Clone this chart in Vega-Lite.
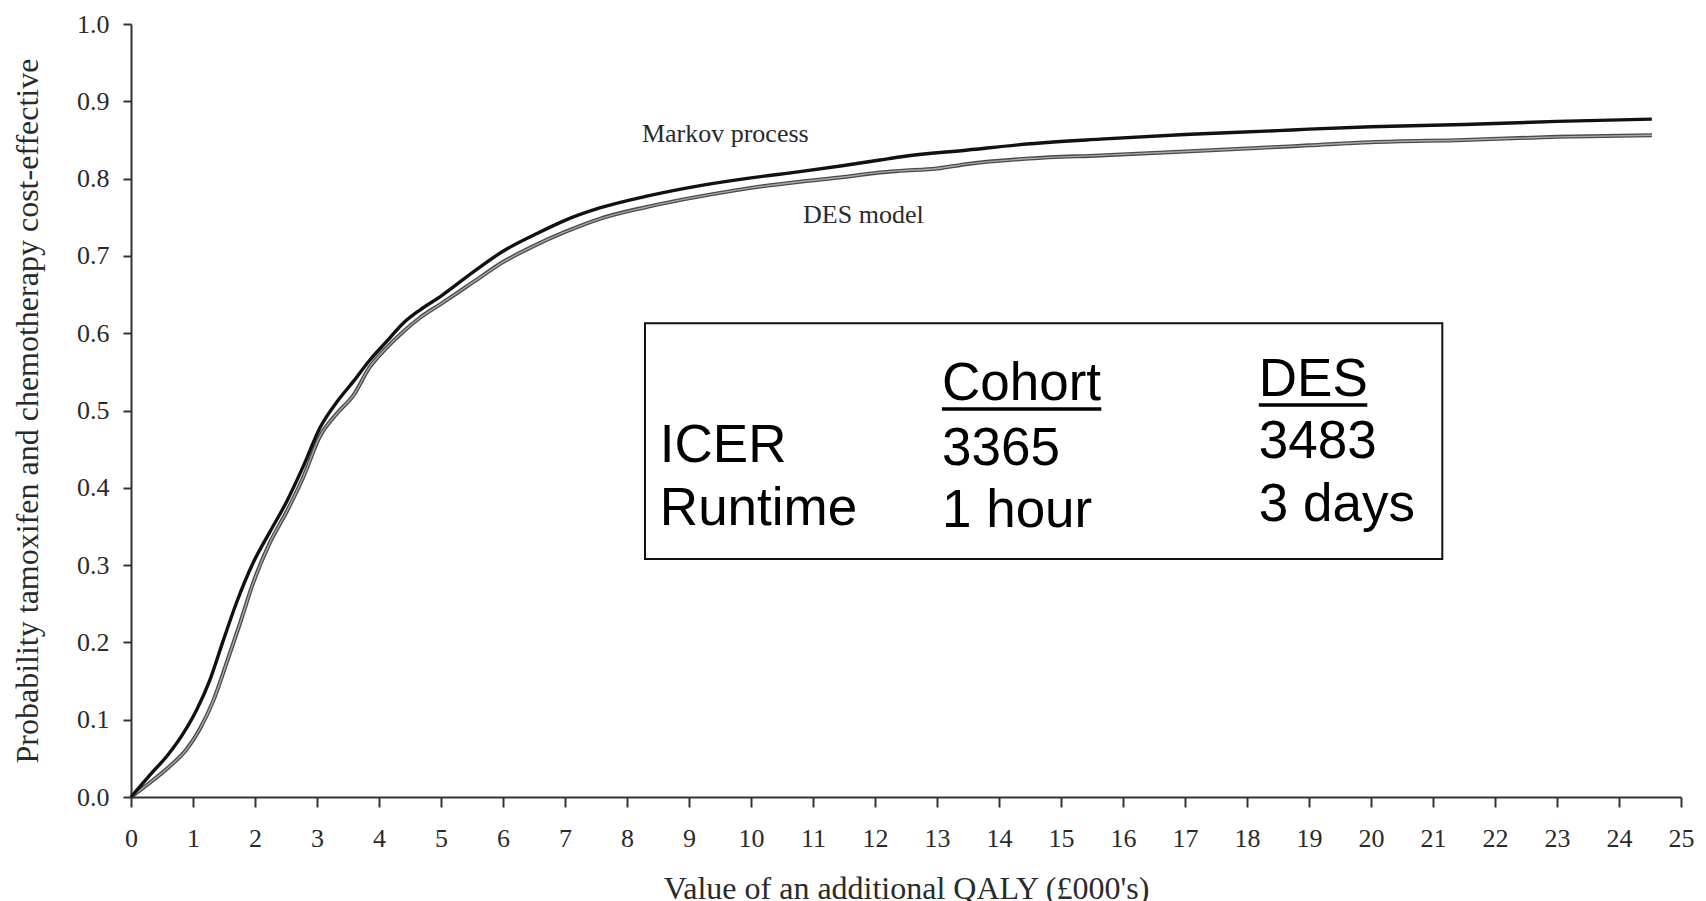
{
  "$schema": "https://vega.github.io/schema/vega-lite/v6.json",
  "width": 1550,
  "height": 773,
  "autosize": "none",
  "padding": {"left": 131, "top": 24, "right": 25, "bottom": 104},
  "background": "white",
  "config": {
    "view": {"stroke": null},
    "axis": {
      "grid": false,
      "domainColor": "#333333",
      "domainWidth": 2,
      "tickColor": "#333333",
      "tickWidth": 2,
      "labelFont": "Liberation Serif",
      "labelFontSize": 26,
      "labelColor": "#2a2a2a",
      "titleFont": "Liberation Serif",
      "titleFontSize": 32,
      "titleFontWeight": "normal",
      "titleColor": "#2a2a2a"
    }
  },
  "data": {
    "values": [
      {"x": 0, "p": 0, "model": "Markov"},
      {"x": 0.3, "p": 0.028, "model": "Markov"},
      {"x": 0.6, "p": 0.055, "model": "Markov"},
      {"x": 0.84, "p": 0.082, "model": "Markov"},
      {"x": 1.06, "p": 0.113, "model": "Markov"},
      {"x": 1.27, "p": 0.151, "model": "Markov"},
      {"x": 1.49, "p": 0.203, "model": "Markov"},
      {"x": 1.70, "p": 0.251, "model": "Markov"},
      {"x": 1.97, "p": 0.303, "model": "Markov"},
      {"x": 2.24, "p": 0.343, "model": "Markov"},
      {"x": 2.51, "p": 0.382, "model": "Markov"},
      {"x": 2.78, "p": 0.428, "model": "Markov"},
      {"x": 3.05, "p": 0.478, "model": "Markov"},
      {"x": 3.32, "p": 0.511, "model": "Markov"},
      {"x": 3.59, "p": 0.538, "model": "Markov"},
      {"x": 3.85, "p": 0.565, "model": "Markov"},
      {"x": 4.12, "p": 0.589, "model": "Markov"},
      {"x": 4.39, "p": 0.613, "model": "Markov"},
      {"x": 4.66, "p": 0.630, "model": "Markov"},
      {"x": 5.0, "p": 0.648, "model": "Markov"},
      {"x": 5.5, "p": 0.678, "model": "Markov"},
      {"x": 6.0, "p": 0.706, "model": "Markov"},
      {"x": 6.5, "p": 0.727, "model": "Markov"},
      {"x": 7.0, "p": 0.746, "model": "Markov"},
      {"x": 7.56, "p": 0.762, "model": "Markov"},
      {"x": 8.3, "p": 0.777, "model": "Markov"},
      {"x": 9.18, "p": 0.791, "model": "Markov"},
      {"x": 10.0, "p": 0.801, "model": "Markov"},
      {"x": 10.79, "p": 0.809, "model": "Markov"},
      {"x": 11.5, "p": 0.817, "model": "Markov"},
      {"x": 12.08, "p": 0.824, "model": "Markov"},
      {"x": 12.4, "p": 0.828, "model": "Markov"},
      {"x": 13.5, "p": 0.837, "model": "Markov"},
      {"x": 14.5, "p": 0.845, "model": "Markov"},
      {"x": 15.63, "p": 0.851, "model": "Markov"},
      {"x": 17, "p": 0.857, "model": "Markov"},
      {"x": 18.5, "p": 0.862, "model": "Markov"},
      {"x": 19, "p": 0.864, "model": "Markov"},
      {"x": 20, "p": 0.867, "model": "Markov"},
      {"x": 21.5, "p": 0.870, "model": "Markov"},
      {"x": 23, "p": 0.874, "model": "Markov"},
      {"x": 24.53, "p": 0.877, "model": "Markov"},
      {"x": 0, "p": 0, "model": "DES"},
      {"x": 0.36, "p": 0.022, "model": "DES"},
      {"x": 0.63, "p": 0.040, "model": "DES"},
      {"x": 0.90, "p": 0.062, "model": "DES"},
      {"x": 1.11, "p": 0.088, "model": "DES"},
      {"x": 1.33, "p": 0.125, "model": "DES"},
      {"x": 1.54, "p": 0.173, "model": "DES"},
      {"x": 1.76, "p": 0.225, "model": "DES"},
      {"x": 1.97, "p": 0.277, "model": "DES"},
      {"x": 2.24, "p": 0.329, "model": "DES"},
      {"x": 2.51, "p": 0.369, "model": "DES"},
      {"x": 2.78, "p": 0.414, "model": "DES"},
      {"x": 3.05, "p": 0.467, "model": "DES"},
      {"x": 3.32, "p": 0.496, "model": "DES"},
      {"x": 3.59, "p": 0.520, "model": "DES"},
      {"x": 3.85, "p": 0.556, "model": "DES"},
      {"x": 4.12, "p": 0.581, "model": "DES"},
      {"x": 4.39, "p": 0.602, "model": "DES"},
      {"x": 4.66, "p": 0.620, "model": "DES"},
      {"x": 5.0, "p": 0.638, "model": "DES"},
      {"x": 5.5, "p": 0.665, "model": "DES"},
      {"x": 6.0, "p": 0.692, "model": "DES"},
      {"x": 6.5, "p": 0.713, "model": "DES"},
      {"x": 7.0, "p": 0.731, "model": "DES"},
      {"x": 7.56, "p": 0.748, "model": "DES"},
      {"x": 8.3, "p": 0.763, "model": "DES"},
      {"x": 9.18, "p": 0.777, "model": "DES"},
      {"x": 10.0, "p": 0.788, "model": "DES"},
      {"x": 10.79, "p": 0.796, "model": "DES"},
      {"x": 11.5, "p": 0.802, "model": "DES"},
      {"x": 12.08, "p": 0.808, "model": "DES"},
      {"x": 12.4, "p": 0.810, "model": "DES"},
      {"x": 13.0, "p": 0.813, "model": "DES"},
      {"x": 13.5, "p": 0.819, "model": "DES"},
      {"x": 14.5, "p": 0.826, "model": "DES"},
      {"x": 15.63, "p": 0.830, "model": "DES"},
      {"x": 17, "p": 0.835, "model": "DES"},
      {"x": 18.5, "p": 0.841, "model": "DES"},
      {"x": 19, "p": 0.843, "model": "DES"},
      {"x": 20, "p": 0.847, "model": "DES"},
      {"x": 21.5, "p": 0.850, "model": "DES"},
      {"x": 23, "p": 0.854, "model": "DES"},
      {"x": 24.53, "p": 0.856, "model": "DES"},
      {"key": "markov", "label": "Markov process"},
      {"key": "des", "label": "DES model"},
      {"key": "box", "label": "table"},
      {"key": "h1", "label": "Cohort"},
      {"key": "h2", "label": "DES"},
      {"key": "r1c0", "label": "ICER"},
      {"key": "r1c1", "label": "3365"},
      {"key": "r1c2", "label": "3483"},
      {"key": "r2c0", "label": "Runtime"},
      {"key": "r2c1", "label": "1 hour"},
      {"key": "r2c2", "label": "3 days"}
    ]
  },
  "layer": [
    {
      "transform": [{"filter": "datum.model === 'DES'"}],
      "mark": {"type": "line", "color": "#4a4a4a", "strokeWidth": 4, "interpolate": "monotone"},
      "encoding": {
        "x": {
          "field": "x",
          "type": "quantitative",
          "scale": {"domain": [0, 25], "nice": false, "zero": false},
          "axis": {
            "title": "Value of an additional QALY (£000's)",
            "values": [0,1,2,3,4,5,6,7,8,9,10,11,12,13,14,15,16,17,18,19,20,21,22,23,24,25],
            "format": "d",
            "tickSize": 10,
            "labelPadding": 18,
            "titlePadding": 22,
            "labelFlush": false,
            "labelOverlap": false
          }
        },
        "y": {
          "field": "p",
          "type": "quantitative",
          "scale": {"domain": [0, 1], "nice": false},
          "axis": {
            "title": "Probability tamoxifen and chemotherapy cost-effective",
            "values": [0,0.1,0.2,0.3,0.4,0.5,0.6,0.7,0.8,0.9,1.0],
            "format": ".1f",
            "tickSize": 8,
            "labelPadding": 14,
            "titlePadding": 32,
            "labelFlush": false,
            "labelOverlap": false
          }
        }
      }
    },
    {
      "transform": [{"filter": "datum.model === 'DES'"}],
      "mark": {"type": "line", "color": "#a8a8a8", "strokeWidth": 1.4, "interpolate": "monotone"},
      "encoding": {"x": {"field": "x", "type": "quantitative"}, "y": {"field": "p", "type": "quantitative"}}
    },
    {
      "transform": [{"filter": "datum.model === 'Markov'"}],
      "mark": {"type": "line", "color": "#111111", "strokeWidth": 3.4, "interpolate": "monotone"},
      "encoding": {"x": {"field": "x", "type": "quantitative"}, "y": {"field": "p", "type": "quantitative"}}
    },
    {
      "transform": [{"filter": "datum.key === 'markov'"}],
      "mark": {"type": "text", "font": "Liberation Serif", "fontSize": 26, "fill": "#2a2a2a", "align": "left", "baseline": "alphabetic"},
      "encoding": {"x": {"datum": 8.24}, "y": {"datum": 0.8477}, "text": {"field": "label"}}
    },
    {
      "transform": [{"filter": "datum.key === 'des'"}],
      "mark": {"type": "text", "font": "Liberation Serif", "fontSize": 26, "fill": "#2a2a2a", "align": "left", "baseline": "alphabetic"},
      "encoding": {"x": {"datum": 10.84}, "y": {"datum": 0.7426}, "text": {"field": "label"}}
    },
    {
      "transform": [{"filter": "datum.key === 'box'"}],
      "mark": {"type": "rect", "fill": "white", "stroke": "#111111", "strokeWidth": 2},
      "encoding": {"x": {"datum": 8.29}, "x2": {"datum": 21.15}, "y": {"datum": 0.613}, "y2": {"datum": 0.308}}
    },
    {
      "transform": [{"filter": "datum.key === 'h1'"}],
      "mark": {"type": "text", "font": "Liberation Sans", "fontSize": 53, "fill": "#000000", "align": "left", "baseline": "alphabetic"},
      "encoding": {"x": {"datum": 13.08}, "y": {"datum": 0.5136}, "text": {"field": "label"}}
    },
    {
      "transform": [{"filter": "datum.key === 'h2'"}],
      "mark": {"type": "text", "font": "Liberation Sans", "fontSize": 53, "fill": "#000000", "align": "left", "baseline": "alphabetic"},
      "encoding": {"x": {"datum": 18.19}, "y": {"datum": 0.5188}, "text": {"field": "label"}}
    },
    {
      "transform": [{"filter": "datum.key === 'h1'"}],
      "mark": {"type": "rule", "color": "#000000", "strokeWidth": 3.5},
      "encoding": {"x": {"datum": 13.08}, "x2": {"datum": 15.65}, "y": {"datum": 0.502}}
    },
    {
      "transform": [{"filter": "datum.key === 'h2'"}],
      "mark": {"type": "rule", "color": "#000000", "strokeWidth": 3.5},
      "encoding": {"x": {"datum": 18.19}, "x2": {"datum": 19.94}, "y": {"datum": 0.507}}
    },
    {
      "transform": [{"filter": "datum.key === 'r1c0'"}],
      "mark": {"type": "text", "font": "Liberation Sans", "fontSize": 53, "fill": "#000000", "align": "left", "baseline": "alphabetic"},
      "encoding": {"x": {"datum": 8.53}, "y": {"datum": 0.4334}, "text": {"field": "label"}}
    },
    {
      "transform": [{"filter": "datum.key === 'r1c1'"}],
      "mark": {"type": "text", "font": "Liberation Sans", "fontSize": 53, "fill": "#000000", "align": "left", "baseline": "alphabetic"},
      "encoding": {"x": {"datum": 13.08}, "y": {"datum": 0.4295}, "text": {"field": "label"}}
    },
    {
      "transform": [{"filter": "datum.key === 'r1c2'"}],
      "mark": {"type": "text", "font": "Liberation Sans", "fontSize": 53, "fill": "#000000", "align": "left", "baseline": "alphabetic"},
      "encoding": {"x": {"datum": 18.19}, "y": {"datum": 0.4386}, "text": {"field": "label"}}
    },
    {
      "transform": [{"filter": "datum.key === 'r2c0'"}],
      "mark": {"type": "text", "font": "Liberation Sans", "fontSize": 53, "fill": "#000000", "align": "left", "baseline": "alphabetic"},
      "encoding": {"x": {"datum": 8.53}, "y": {"datum": 0.3519}, "text": {"field": "label"}}
    },
    {
      "transform": [{"filter": "datum.key === 'r2c1'"}],
      "mark": {"type": "text", "font": "Liberation Sans", "fontSize": 53, "fill": "#000000", "align": "left", "baseline": "alphabetic"},
      "encoding": {"x": {"datum": 13.08}, "y": {"datum": 0.3493}, "text": {"field": "label"}}
    },
    {
      "transform": [{"filter": "datum.key === 'r2c2'"}],
      "mark": {"type": "text", "font": "Liberation Sans", "fontSize": 53, "fill": "#000000", "align": "left", "baseline": "alphabetic"},
      "encoding": {"x": {"datum": 18.19}, "y": {"datum": 0.3571}, "text": {"field": "label"}}
    }
  ]
}
